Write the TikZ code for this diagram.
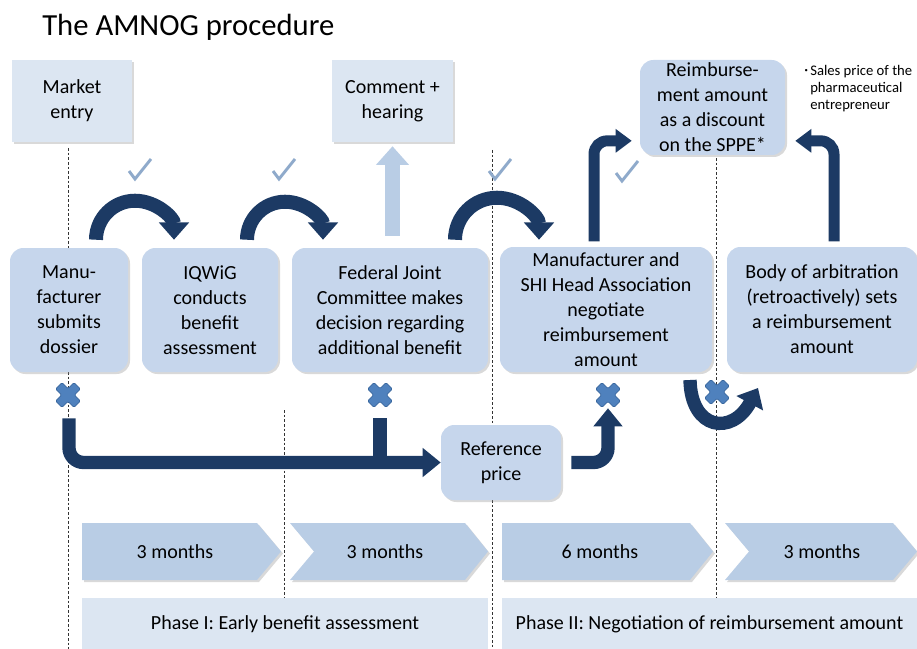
\documentclass[tikz,border=0pt]{standalone}
\usepackage{fontspec}
\setmainfont{Carlito}
\usepackage{tikz}
\usetikzlibrary{arrows.meta, positioning, shadows, calc}

\definecolor{navy}{HTML}{1C3A64}
\definecolor{boxblue}{HTML}{C6D6EC}
\definecolor{paleblue}{HTML}{DCE6F2}
\definecolor{chevblue}{HTML}{B9CDE5}
\definecolor{tickblue}{HTML}{8FAACB}
\definecolor{crossblue}{HTML}{4F81BD}
\definecolor{crossedge}{HTML}{3A689F}

\tikzset{
  box/.style={fill=boxblue, rounded corners=10pt, align=center, inner sep=0pt,
    font=\fontsize{15}{18.75}\selectfont,
    drop shadow={shadow xshift=1.5pt, shadow yshift=-1.5pt, opacity=0.3}},
  flatbox/.style={box, fill=paleblue, sharp corners},
  phasebox/.style={fill=paleblue, align=center, inner sep=0pt, font=\fontsize{15}{18.75}\selectfont},
  chev/.style={fill=chevblue, drop shadow={shadow xshift=1.5pt, shadow yshift=-1.5pt, opacity=0.3}},
  chevtext/.style={inner sep=0pt, font=\fontsize{15}{18.75}\selectfont},
  note/.style={align=left, inner sep=0pt, font=\fontsize{11}{12.6}\selectfont},
  marker/.style={draw=black!80, line width=0.5pt, dash pattern=on 2pt off 1.5pt},
  curvarrow/.style={draw=navy, line width=10.5pt, -{Triangle[length=13pt, width=22pt]}},
  bigarrow/.style={draw=navy, line width=10pt, rounded corners=11pt, -{Triangle[length=13.5pt, width=21pt]}},
  bigbar/.style={draw=navy, line width=10pt},
  bendarrow/.style={draw=navy, line width=8.25pt, rounded corners=10pt, -{Triangle[length=12pt, width=17pt]}},
  liftarrow/.style={draw=chevblue, line width=11pt, -{Triangle[length=14pt, width=24pt]}},
  checkmark/.pic={\draw [tickblue, line width=2.2pt] (-11,1) -- (-5,9) -- (11,-11);},
  xmark/.pic={\filldraw [fill=crossblue, draw=crossedge, line width=0.6pt, rotate=45, rounded corners=1pt]
    (-4.5,-13) -- (4.5,-13) -- (4.5,-4.5) -- (13,-4.5) -- (13,4.5) -- (4.5,4.5) -- (4.5,13)
    -- (-4.5,13) -- (-4.5,4.5) -- (-13,4.5) -- (-13,-4.5) -- (-4.5,-4.5) -- cycle;}
}

\begin{document}
\begin{tikzpicture}[x=0.75pt, y=-0.75pt]
  \useasboundingbox (0,0) rectangle (917,649);

  %draws the dashed time markers
  \draw [marker] (68,148) -- (68,649);
  \draw [marker] (284,410) -- (284,597);
  \draw [marker] (492,150) -- (492,649);
  \draw [marker] (716,158) -- (716,597);

  %title
  \node (title) [anchor=base west, inner sep=0pt, font=\fontsize{23}{28}\selectfont] at (42,36) {The AMNOG procedure};

  %creates the top boxes
  \node (mkt) [flatbox, minimum width=90pt, minimum height=61.5pt] at (72,101) {Market\\entry};%draws market entry
  \node (cmt) [flatbox, minimum width=90.75pt, minimum height=61.5pt] at (392.5,101) {Comment +\\hearing};%draws comment box
  \node (reimb) [box, minimum width=108.75pt, minimum height=71.25pt] at (712.5,107.5) {Reimburse-\\ment amount\\as a discount\\on the SPPE*};%draws result box
  \node (fn) [note, anchor=north west] at (810,65) {\llap{\raisebox{0.4ex}{\tiny\textbullet}\,}Sales price of the\\pharmaceutical\\entrepreneur};%footnote

  %creates the row of steps
  \node (mfr) [box, minimum width=88.5pt, minimum height=93pt] at (69,310) {Manu-\\facturer\\submits\\dossier};
  \node (iqwig) [box, minimum width=102pt, minimum height=93pt] at (210,310) {IQWiG\\conducts\\benefit\\assessment};
  \node (gba) [box, minimum width=147pt, minimum height=93pt] at (390,310) {Federal Joint\\Committee makes\\decision regarding\\additional benefit};
  \node (shi) [box, minimum width=159pt, minimum height=93.75pt] at (606,309.5) {Manufacturer and\\SHI Head Association\\negotiate\\reimbursement\\amount};
  \node (arb) [box, minimum width=142.5pt, minimum height=93.75pt] at (822,309.5) {Body of arbitration\\(retroactively) sets\\a reimbursement\\amount};
  \node (ref) [box, minimum width=90pt, minimum height=56.25pt] at (501,462.5) {Reference\\price};

  %draws the time chevrons
  \fill [chev] (82,523) -- (257,523) -- (281,551.5) -- (257,580) -- (82,580) -- cycle;
  \fill [chev] (290,523) -- (465,523) -- (488,551.5) -- (465,580) -- (290,580) -- (314,551.5) -- cycle;
  \fill [chev] (502,523) -- (690,523) -- (713,551.5) -- (690,580) -- (502,580) -- cycle;
  \fill [chev] (725,523) -- (893,523) -- (917,551.5) -- (893,580) -- (725,580) -- (749,551.5) -- cycle;
  \node (t1) [chevtext] at (175,551.5) {3 months};
  \node (t2) [chevtext] at (385,551.5) {3 months};
  \node (t3) [chevtext] at (600,551.5) {6 months};
  \node (t4) [chevtext] at (822,551.5) {3 months};

  %draws the phases
  \node (ph1) [phasebox, minimum width=304.5pt, minimum height=39.75pt] at (285,624.5) {Phase I: Early benefit assessment};
  \node (ph2) [phasebox, minimum width=311.25pt, minimum height=39.75pt] at (709.5,624.5) {Phase II: Negotiation of reimbursement amount};

  %draws the curved arrows between steps
  \draw [curvarrow] ([xshift=20.25pt, yshift=6pt]mfr.north) arc [start angle=180, end angle=360, radius=39];
  \draw [curvarrow] ([xshift=27.75pt, yshift=6pt]iqwig.north) arc [start angle=180, end angle=360, radius=38];
  \draw [curvarrow] ([xshift=48.75pt, yshift=6pt]gba.north) arc [start angle=180, end angle=360, radius=42];

  %draws the arrows up to the reimbursement amount
  \draw [bendarrow] ([xshift=-9pt, yshift=4pt]shi.north) |- ([xshift=-6pt, yshift=-25pt]reimb.west);
  \draw [bendarrow] ([xshift=9pt, yshift=4pt]arb.north) |- ([xshift=7.5pt, yshift=-25pt]reimb.east);
  \draw [liftarrow] ($(cmt.south |- gba.north)+(0,-12)$) -- ($(cmt.south)+(0,4)$);

  %draws the reference price path
  \draw [bigarrow] ([yshift=-34.5pt]mfr.south) |- (ref.west);
  \draw [bigbar] ($(gba.south)+(-10,46)$) -- ($(gba.south |- ref.west)+(-10,0)$);
  \draw [bigarrow] ([xshift=7.5pt]ref.east) -| ([xshift=1.5pt, yshift=-27pt]shi.south);
  \draw [curvarrow, line width=10pt] (690,380) .. controls (691,430) and (732,436) .. (758,388);

  %ticks and crosses
  \pic at (140,170) {checkmark};
  \pic at (284,170) {checkmark};
  \pic at (500,170) {checkmark};
  \pic at (627,172) {checkmark};
  \pic at (68,395) {xmark};
  \pic at (380,395) {xmark};
  \pic at (608,395) {xmark};
  \pic at (717,392) {xmark};
\end{tikzpicture}
\end{document}
